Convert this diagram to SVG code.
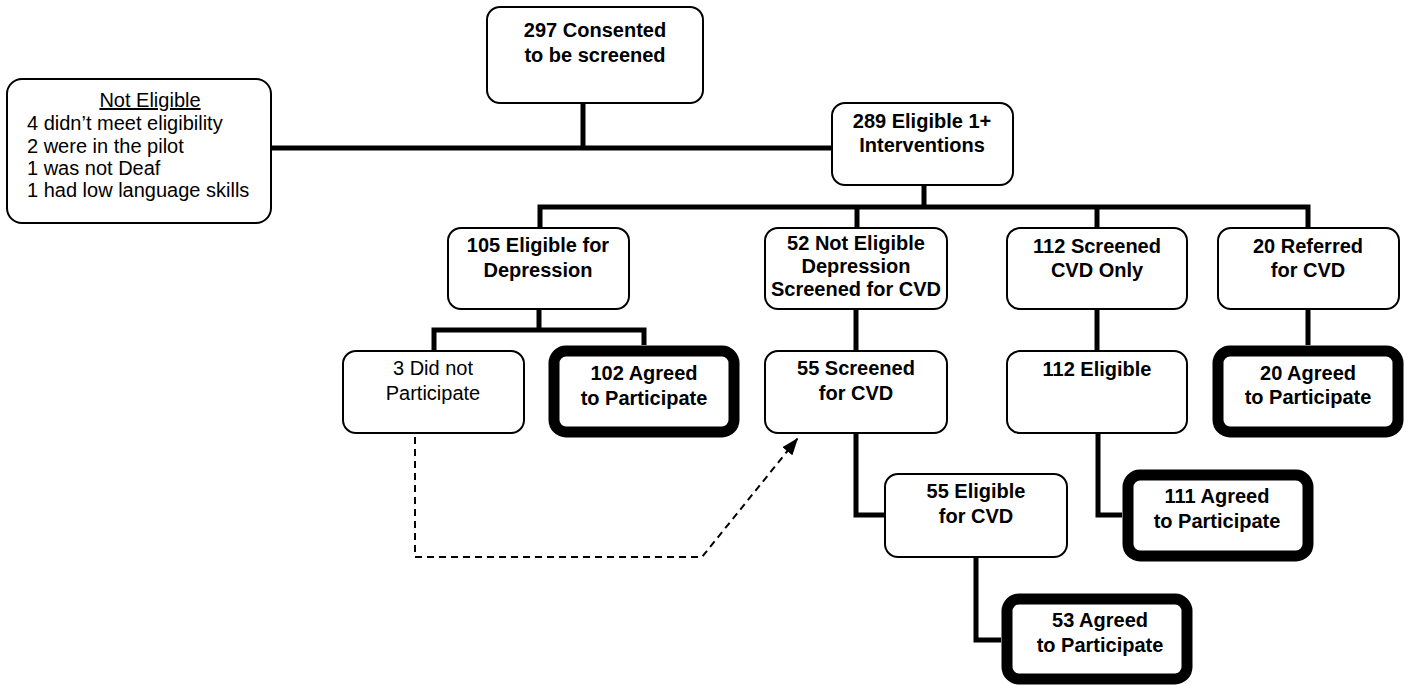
<svg xmlns="http://www.w3.org/2000/svg" width="1410" height="685" viewBox="0 0 1410 685">
<style>
.box{fill:#fff;stroke:#000;stroke-width:2}
.thick{fill:#fff;stroke:#000;stroke-width:11}
.b{font-family:"Liberation Sans",Arial,sans-serif;font-weight:bold;font-size:20px;text-anchor:middle;fill:#000}
.r{font-family:"Liberation Sans",Arial,sans-serif;font-size:20px;fill:#000}
.conn{fill:none;stroke:#000;stroke-width:5;stroke-linejoin:miter;stroke-linecap:butt}
.dash{fill:none;stroke:#000;stroke-width:2;stroke-dasharray:7 5}
</style>
<defs>
<marker id="ah" viewBox="0 0 17 13" refX="17" refY="6.5" markerWidth="17" markerHeight="13" orient="auto" markerUnits="userSpaceOnUse">
<path d="M0,0 L17,6.5 L0,13 z" fill="#000"/>
</marker>
</defs>
<rect width="1410" height="685" fill="#fff"/>
<g id="connectors">
<path class="conn" d="M583,103 V148"/>
<path class="conn" d="M271,148 H832"/>
<path class="conn" d="M924,185 V207"/>
<path class="conn" d="M540,228 V207 H1308 V228"/>
<path class="conn" d="M857,207 V228"/>
<path class="conn" d="M1097,207 V228"/>
<path class="conn" d="M539,309 V330"/>
<path class="conn" d="M434,351 V330 H644 V345"/>
<path class="conn" d="M856,309 V351"/>
<path class="conn" d="M1097,309 V351"/>
<path class="conn" d="M1308,309 V345"/>
<path class="conn" d="M856,433 V515 H885"/>
<path class="conn" d="M1098,433 V515 H1122"/>
<path class="conn" d="M976,557 V640 H1001"/>
<path class="dash" d="M415,437 V557 H702 L798,438" marker-end="url(#ah)"/>
</g>
<g id="not-eligible">
<rect class="box" x="7" y="79" width="264" height="144" rx="15"/>
<text class="r" x="150" y="107" text-anchor="middle" text-decoration="underline">Not Eligible</text>
<text class="r" x="27" y="130">4 didn’t meet eligibility</text>
<text class="r" x="27" y="153">2 were in the pilot</text>
<text class="r" x="27" y="175">1 was not Deaf</text>
<text class="r" x="27" y="197">1 had low language skills</text>
</g>
<g id="consented">
<rect class="box" x="487" y="7" width="216" height="96" rx="13"/>
<text class="b" x="595" y="37">297 Consented</text>
<text class="b" x="595" y="62">to be screened</text>
</g>
<g id="eligible289">
<rect class="box" x="832" y="103" width="181" height="82" rx="13"/>
<text class="b" x="922" y="128">289 Eligible 1+</text>
<text class="b" x="922" y="152">Interventions</text>
</g>
<g id="dep105">
<rect class="box" x="448" y="228" width="181" height="81" rx="13"/>
<text class="b" x="538" y="252">105 Eligible for</text>
<text class="b" x="538" y="277">Depression</text>
</g>
<g id="ne52">
<rect class="box" x="765" y="228" width="182" height="81" rx="13"/>
<text class="b" x="856" y="250">52 Not Eligible</text>
<text class="b" x="856" y="273">Depression</text>
<text class="b" x="856" y="296">Screened for CVD</text>
</g>
<g id="cvd112">
<rect class="box" x="1007" y="228" width="180" height="81" rx="13"/>
<text class="b" x="1097" y="253">112 Screened</text>
<text class="b" x="1097" y="277">CVD Only</text>
</g>
<g id="ref20">
<rect class="box" x="1218" y="228" width="181" height="81" rx="13"/>
<text class="b" x="1308" y="253">20 Referred</text>
<text class="b" x="1308" y="277">for CVD</text>
</g>
<g id="dnp3">
<rect class="box" x="343" y="351" width="181" height="82" rx="13"/>
<text class="r" x="433" y="375" text-anchor="middle">3 Did not</text>
<text class="r" x="433" y="400" text-anchor="middle">Participate</text>
</g>
<g id="agreed102">
<rect class="thick" x="554" y="351" width="180" height="81" rx="12"/>
<text class="b" x="644" y="380">102 Agreed</text>
<text class="b" x="644" y="405">to Participate</text>
</g>
<g id="screened55">
<rect class="box" x="765" y="351" width="182" height="82" rx="13"/>
<text class="b" x="856" y="375">55 Screened</text>
<text class="b" x="856" y="400">for CVD</text>
</g>
<g id="eligible112">
<rect class="box" x="1007" y="351" width="180" height="82" rx="13"/>
<text class="b" x="1097" y="376">112 Eligible</text>
</g>
<g id="agreed20">
<rect class="thick" x="1218" y="351" width="180" height="81" rx="12"/>
<text class="b" x="1308" y="380">20 Agreed</text>
<text class="b" x="1308" y="404">to Participate</text>
</g>
<g id="eligible55">
<rect class="box" x="885" y="474" width="182" height="83" rx="13"/>
<text class="b" x="976" y="498">55 Eligible</text>
<text class="b" x="976" y="523">for CVD</text>
</g>
<g id="agreed111">
<rect class="thick" x="1128" y="475" width="180" height="81" rx="12"/>
<text class="b" x="1217" y="503">111 Agreed</text>
<text class="b" x="1217" y="528">to Participate</text>
</g>
<g id="agreed53">
<rect class="thick" x="1007" y="599" width="180" height="80" rx="12"/>
<text class="b" x="1100" y="627">53 Agreed</text>
<text class="b" x="1100" y="652">to Participate</text>
</g>
</svg>
